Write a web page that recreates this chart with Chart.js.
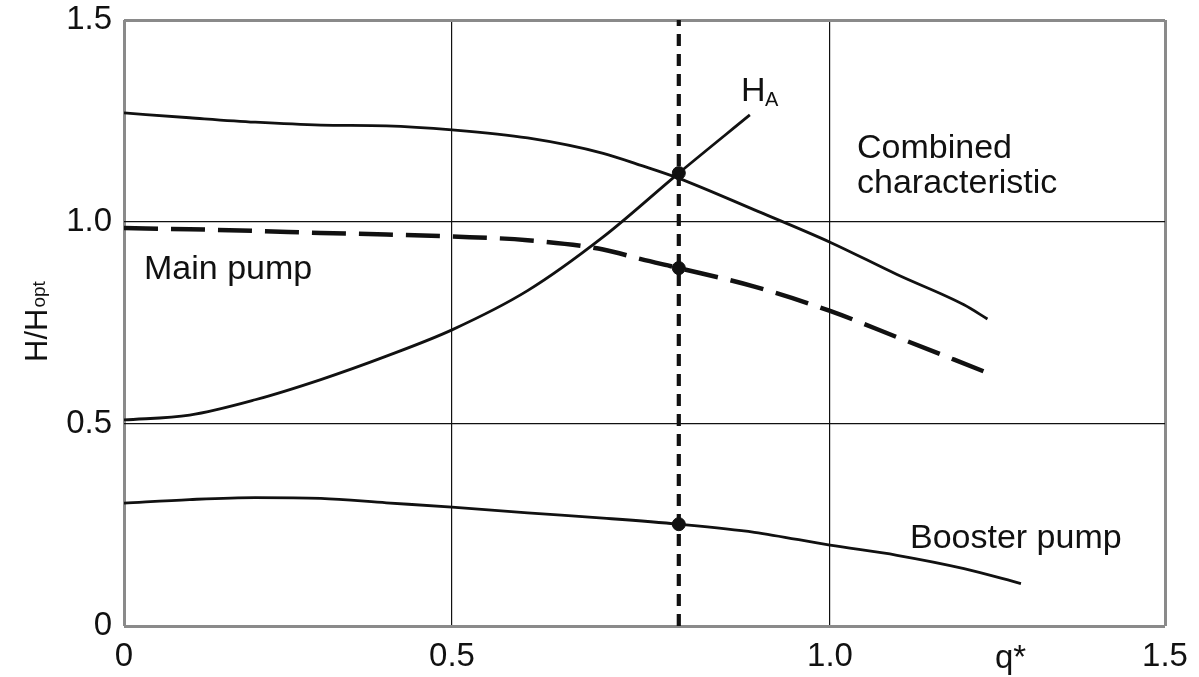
<!DOCTYPE html>
<html lang="en">
<head>
<meta charset="utf-8"/>
<title>Main and booster pump characteristics</title>
<script src="https://cdn.jsdelivr.net/npm/chart.js@4.4.3/dist/chart.umd.min.js"></script>
<style>
  html, body { margin: 0; padding: 0; background: #fff; }
  canvas { display: block; }
</style>
</head>
<body>
<canvas id="chart" width="1199" height="677"></canvas>
<script>
// --- data (q* vs H/Hopt) ---
const combinedQ = [0, 0.1, 0.2, 0.3, 0.4, 0.5, 0.6, 0.7, 0.75, 0.8, 0.9, 1.0, 1.1, 1.2, 1.235];
const combinedH = [1.27, 1.258, 1.247, 1.24, 1.238, 1.228, 1.208, 1.17, 1.14, 1.108, 1.03, 0.95, 0.87, 0.795, 0.76];

const mainQ = [0, 0.1, 0.2, 0.3, 0.4, 0.5, 0.6, 0.7, 0.75, 0.8, 0.9, 1.0, 1.1, 1.23];
const mainH = [0.985, 0.982, 0.978, 0.973, 0.969, 0.964, 0.955, 0.932, 0.908, 0.886, 0.84, 0.78, 0.715, 0.63];

const systemQ = [0, 0.1, 0.2, 0.3, 0.4, 0.5, 0.6, 0.7, 0.8, 0.894];
const systemH = [0.51, 0.522, 0.56, 0.61, 0.668, 0.733, 0.83, 0.963, 1.121, 1.265];

const boosterQ = [0, 0.1, 0.2, 0.3, 0.4, 0.5, 0.6, 0.7, 0.8, 0.9, 1.0, 1.1, 1.2, 1.285];
const boosterH = [0.304, 0.313, 0.318, 0.316, 0.305, 0.294, 0.28, 0.267, 0.252, 0.232, 0.2, 0.175, 0.142, 0.105];

const operatingQ = 0.8;
const operatingH = [1.121, 0.886, 0.252];

const xTicks = [0, 0.5, 1.0, 1.5];
const yTicks = [0, 0.5, 1.0, 1.5];
const xTickLabels = ['0', '0.5', '1.0', '1.5'];
const yTickLabels = ['0', '0.5', '1.0', '1.5'];

// the drawing's q axis is not evenly spaced: fraction of plot width at each tick
const xTickFrac = [0, 328 / 1041, 706 / 1041, 1];

const pts = (xs, ys) => xs.map((x, i) => ({ x, y: ys[i] }));

// piecewise linear scale so grid lines sit where the drawing has them
class PiecewiseScale extends Chart.LinearScale {
  getPixelForValue(value) {
    if (value === null || value === undefined) return NaN;
    return this.getPixelForDecimal(toFrac(value));
  }
  getValueForPixel(pixel) {
    return fromFrac(this.getDecimalForPixel(pixel));
  }
}
PiecewiseScale.id = 'piecewise';
PiecewiseScale.defaults = Chart.LinearScale.defaults;
Chart.register(PiecewiseScale);

function toFrac(v) {
  for (let i = 1; i < xTicks.length; i++) {
    if (v <= xTicks[i] || i === xTicks.length - 1) {
      const t = (v - xTicks[i - 1]) / (xTicks[i] - xTicks[i - 1]);
      return xTickFrac[i - 1] + t * (xTickFrac[i] - xTickFrac[i - 1]);
    }
  }
  return 0;
}
function fromFrac(f) {
  for (let i = 1; i < xTickFrac.length; i++) {
    if (f <= xTickFrac[i] || i === xTickFrac.length - 1) {
      const t = (f - xTickFrac[i - 1]) / (xTickFrac[i] - xTickFrac[i - 1]);
      return xTicks[i - 1] + t * (xTicks[i] - xTicks[i - 1]);
    }
  }
  return 0;
}

const FONT = '"Liberation Sans", Arial, Helvetica, sans-serif';
const INK = '#111';
const FRAME = '#8a8a8a';

const curve = (data, extra) => Object.assign({
  data, borderColor: INK, borderWidth: 2.8, pointRadius: 0,
  cubicInterpolationMode: 'monotone', fill: false,
}, extra);

const gridOpts = {
  drawTicks: false,
  color: (c) => (c.tick && (c.tick.value === 0 || c.tick.value === 1.5)) ? FRAME : INK,
  lineWidth: (c) => (c.tick && (c.tick.value === 0 || c.tick.value === 1.5)) ? 3 : 1.2,
};

const textLabels = {
  id: 'textLabels',
  afterDatasetsDraw(chart) {
    const { ctx } = chart;
    ctx.save();
    ctx.fillStyle = INK;
    ctx.textBaseline = 'alphabetic';
    ctx.textAlign = 'left';
    ctx.font = '34px ' + FONT;
    ctx.fillText('Combined', 857, 158);
    ctx.fillText('characteristic', 857, 193);
    ctx.fillText('Main pump', 144, 279);
    ctx.fillText('Booster pump', 910, 548);
    // H_A label
    ctx.fillText('H', 741, 101);
    ctx.font = '20px ' + FONT;
    ctx.fillText('A', 765, 106);
    // q* sits on the tick row
    ctx.font = '33px ' + FONT;
    ctx.fillText('q*', 995, 668);
    // rotated y title H/Hopt
    ctx.translate(47, 362);
    ctx.rotate(-Math.PI / 2);
    ctx.font = '31px ' + FONT;
    ctx.fillText('H/H', 0, 0);
    const w = ctx.measureText('H/H').width;
    ctx.font = '19px ' + FONT;
    ctx.fillText('opt', w + 1, -2);
    ctx.restore();
  },
};

new Chart(document.getElementById('chart'), {
  type: 'line',
  data: {
    datasets: [
      curve([{ x: operatingQ, y: 0 }, { x: operatingQ, y: 1.5 }],
        { borderWidth: 4.2, borderDash: [12, 8], cubicInterpolationMode: 'default', tension: 0 }),
      curve(pts(combinedQ, combinedH)),
      curve(pts(mainQ, mainH), { borderWidth: 4.5, borderDash: [34, 13] }),
      curve(pts(systemQ, systemH)),
      curve(pts(boosterQ, boosterH)),
      {
        type: 'scatter',
        data: operatingH.map((h) => ({ x: operatingQ, y: h })),
        backgroundColor: INK, borderColor: INK, pointRadius: 6.5, pointHoverRadius: 6.5,
      },
    ],
  },
  options: {
    responsive: false,
    animation: false,
    devicePixelRatio: 1,
    layout: { padding: { top: 20, right: 34, left: 0, bottom: 0 } },
    plugins: { legend: { display: false }, tooltip: { enabled: false } },
    scales: {
      x: {
        type: 'piecewise',
        min: 0, max: 1.5,
        afterBuildTicks: (s) => { s.ticks = xTicks.map((v) => ({ value: v })); },
        afterFit: (s) => { s.height = 51; s.paddingLeft = 0; s.paddingRight = 0; },
        ticks: {
          padding: 11, color: INK, maxRotation: 0, autoSkip: false,
          font: { family: FONT, size: 33 },
          callback: (v) => xTickLabels[xTicks.indexOf(v)] ?? '',
        },
        grid: gridOpts,
        border: { display: false },
      },
      y: {
        type: 'linear',
        min: 0, max: 1.5,
        afterBuildTicks: (s) => { s.ticks = yTicks.map((v) => ({ value: v })); },
        afterFit: (s) => { s.width = 124; s.paddingTop = 0; s.paddingBottom = 0; },
        ticks: {
          padding: 12, color: INK,
          font: { family: FONT, size: 33 },
          callback: (v) => yTickLabels[yTicks.indexOf(v)] ?? '',
        },
        grid: gridOpts,
        border: { display: false },
      },
    },
  },
  plugins: [textLabels],
});
</script>
</body>
</html>
